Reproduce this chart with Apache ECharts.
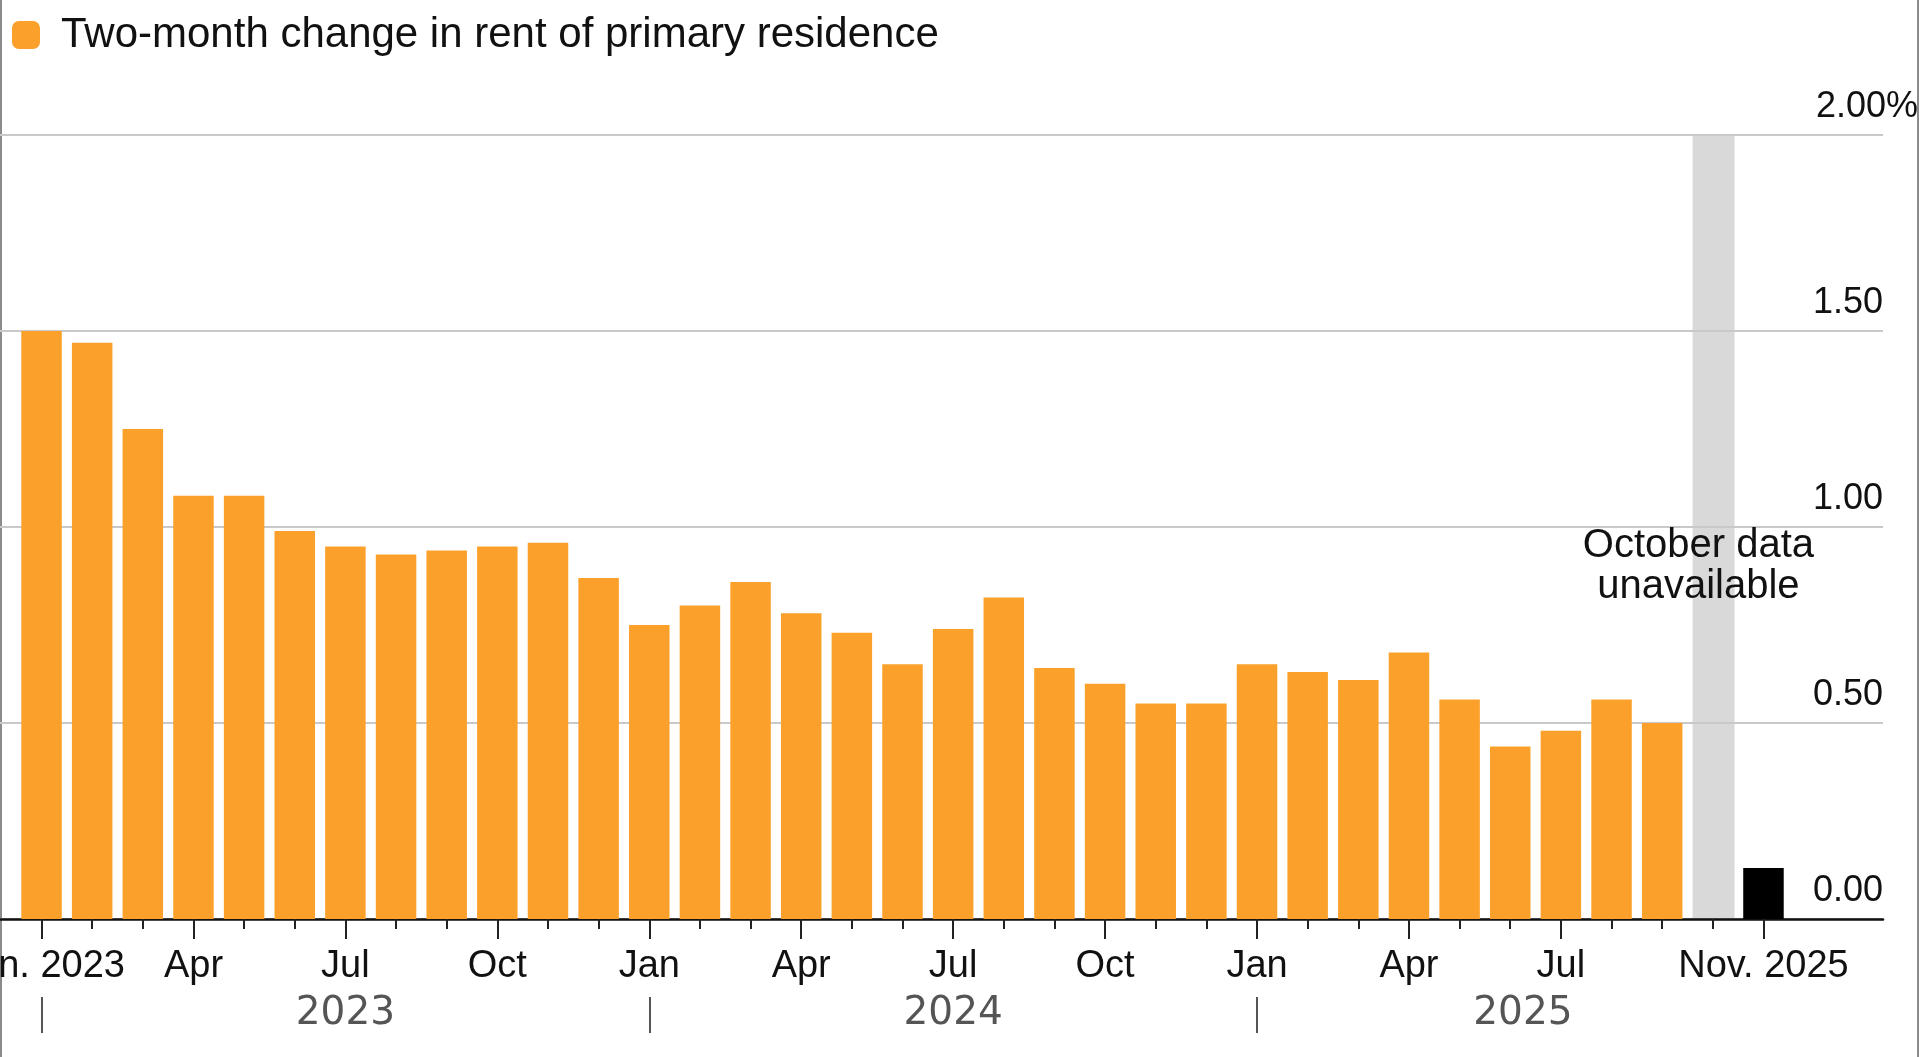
<!DOCTYPE html>
<html><head><meta charset="utf-8">
<script src="https://cdn.jsdelivr.net/npm/echarts@6/dist/echarts.min.js"></script>
<style>html,body{margin:0;padding:0;background:#fff}#c{width:1920px;height:1057px}</style>
</head><body><div id="c"></div><script>
const months = ['Jan 2023','Feb 2023','Mar 2023','Apr 2023','May 2023','Jun 2023','Jul 2023','Aug 2023','Sep 2023','Oct 2023','Nov 2023','Dec 2023',
  'Jan 2024','Feb 2024','Mar 2024','Apr 2024','May 2024','Jun 2024','Jul 2024','Aug 2024','Sep 2024','Oct 2024','Nov 2024','Dec 2024',
  'Jan 2025','Feb 2025','Mar 2025','Apr 2025','May 2025','Jun 2025','Jul 2025','Aug 2025','Sep 2025','Oct 2025','Nov 2025'];
const rentChange = [1.50,1.47,1.25,1.08,1.08,0.99,0.95,0.93,0.94,0.95,0.96,0.87,
  0.75,0.80,0.86,0.78,0.73,0.65,0.74,0.82,0.64,0.60,0.55,0.55,
  0.65,0.63,0.61,0.68,0.56,0.44,0.48,0.56,0.50,null,0.13];
const latestIndex = 34;
const tickLabelIndex = [0,3,6,9,12,15,18,21,24,27,30,34];
const tickLabelText = ['Jan. 2023','Apr','Jul','Oct','Jan','Apr','Jul','Oct','Jan','Apr','Jul','Nov. 2025'];
const yearLabels = ['2023','2024','2025'];
const yearStartIndex = [0,12,24];
const yMin = 0, yMax = 2, yStep = 0.5;
const seriesName = 'Two-month change in rent of primary residence';
const noteText = 'October data\nunavailable';

const ORANGE = '#fba12b';
const FONT = '"Liberation Sans", Arial, Helvetica, sans-serif';
const gapIndex = rentChange.findIndex(v => v === null);
const allIndex = months.map((m, i) => i);
const yearCenters = yearStartIndex.map((s, k) => (s + (k + 1 < yearStartIndex.length ? yearStartIndex[k + 1] : months.length - 0.5)) / 2);

const barData = [];
rentChange.forEach((v, i) => {
  if (v === null) return;
  const d = { value: [i, v] };
  if (i === latestIndex) d.itemStyle = { color: '#000' };
  barData.push(d);
});

const xBase = { type: 'value', gridIndex: 0, min: -0.82, max: 36.36, position: 'bottom', splitLine: { show: false }, axisPointer: { show: false } };

const chart = echarts.init(document.getElementById('c'), null, { renderer: 'canvas' });
chart.setOption({
  animation: false,
  backgroundColor: '#fff',
  textStyle: { fontFamily: FONT },
  legend: {
    data: [seriesName], left: 7, top: 9, itemWidth: 28, itemHeight: 28, icon: 'roundRect',
    textStyle: { fontSize: 42, lineHeight: 42, color: '#111', fontFamily: FONT, padding: [0, 0, 0, 16] },
    selectedMode: false
  },
  grid: { left: 0, right: 37, top: 135, bottom: 138, containLabel: false, outerBoundsMode: 'none' },
  xAxis: [
    Object.assign({}, xBase, {
      axisLine: { show: true, lineStyle: { color: '#111', width: 2.5 } },
      axisTick: { show: true, customValues: allIndex, length: 10, lineStyle: { color: '#222', width: 2 } },
      axisLabel: { show: true, customValues: tickLabelIndex, margin: 29, fontSize: 38, lineHeight: 38, color: '#111', fontFamily: FONT,
        formatter: v => tickLabelText[tickLabelIndex.indexOf(Math.round(v))] || '' }
    }),
    Object.assign({}, xBase, {
      axisLine: { show: false },
      axisTick: { show: true, customValues: tickLabelIndex, length: 20, lineStyle: { color: '#222', width: 2 } },
      axisLabel: { show: false }
    }),
    Object.assign({}, xBase, {
      offset: 78,
      axisLine: { show: false },
      axisTick: { show: true, customValues: yearStartIndex, length: 36, lineStyle: { color: '#555', width: 2 } },
      axisLabel: { show: true, customValues: yearCenters, margin: -3, fontSize: 39, lineHeight: 39, color: '#555',
        fontFamily: '"DejaVu Sans", sans-serif',
        formatter: v => { const k = yearCenters.findIndex(c => Math.abs(c - v) < 1e-6); return k >= 0 ? yearLabels[k] : ''; } }
    })
  ],
  yAxis: {
    type: 'value', min: yMin, max: yMax, interval: yStep, position: 'right',
    axisLine: { show: false }, axisTick: { show: false },
    splitLine: { show: true, lineStyle: { color: '#c9c9c9', width: 2 } },
    axisLabel: {
      show: true, inside: true, margin: -35, verticalAlign: 'bottom', color: '#111', fontFamily: FONT,
      formatter: v => v === yMax ? '{t|' + v.toFixed(2) + '%}' : '{n|' + v.toFixed(2) + '}',
      rich: {
        t: { fontSize: 36, lineHeight: 36, color: '#111', fontFamily: FONT, padding: [0, 0, 19, 0] },
        n: { fontSize: 36, lineHeight: 36, color: '#111', fontFamily: FONT, padding: [0, 35, 19, 0] }
      }
    }
  },
  series: [
    {
      name: 'gap', type: 'bar', xAxisIndex: 0, silent: true, z: -1,
      barWidth: 42, barGap: '-100%',
      itemStyle: { color: '#d9d9d9' },
      data: [[gapIndex, yMax]],
      markPoint: {
        symbol: 'rect', symbolSize: 1, itemStyle: { color: 'rgba(0,0,0,0)' }, silent: true,
        label: { show: true, position: 'inside', formatter: noteText, fontSize: 40, lineHeight: 41, color: '#111', fontFamily: FONT, align: 'center' },
        data: [{ coord: [gapIndex - 0.3, 0.9] }]
      }
    },
    {
      name: seriesName, type: 'bar', xAxisIndex: 0, barWidth: 40.5, barGap: '-100%',
      itemStyle: { color: ORANGE },
      data: barData
    }
  ],
  graphic: [
    { type: 'line', shape: { x1: 1, y1: 0, x2: 1, y2: 1057 }, style: { stroke: '#8a8a8a', lineWidth: 2 }, silent: true },
    { type: 'line', shape: { x1: 1918, y1: 0, x2: 1918, y2: 1057 }, style: { stroke: '#8a8a8a', lineWidth: 2 }, silent: true }
  ]
});
</script></body></html>
